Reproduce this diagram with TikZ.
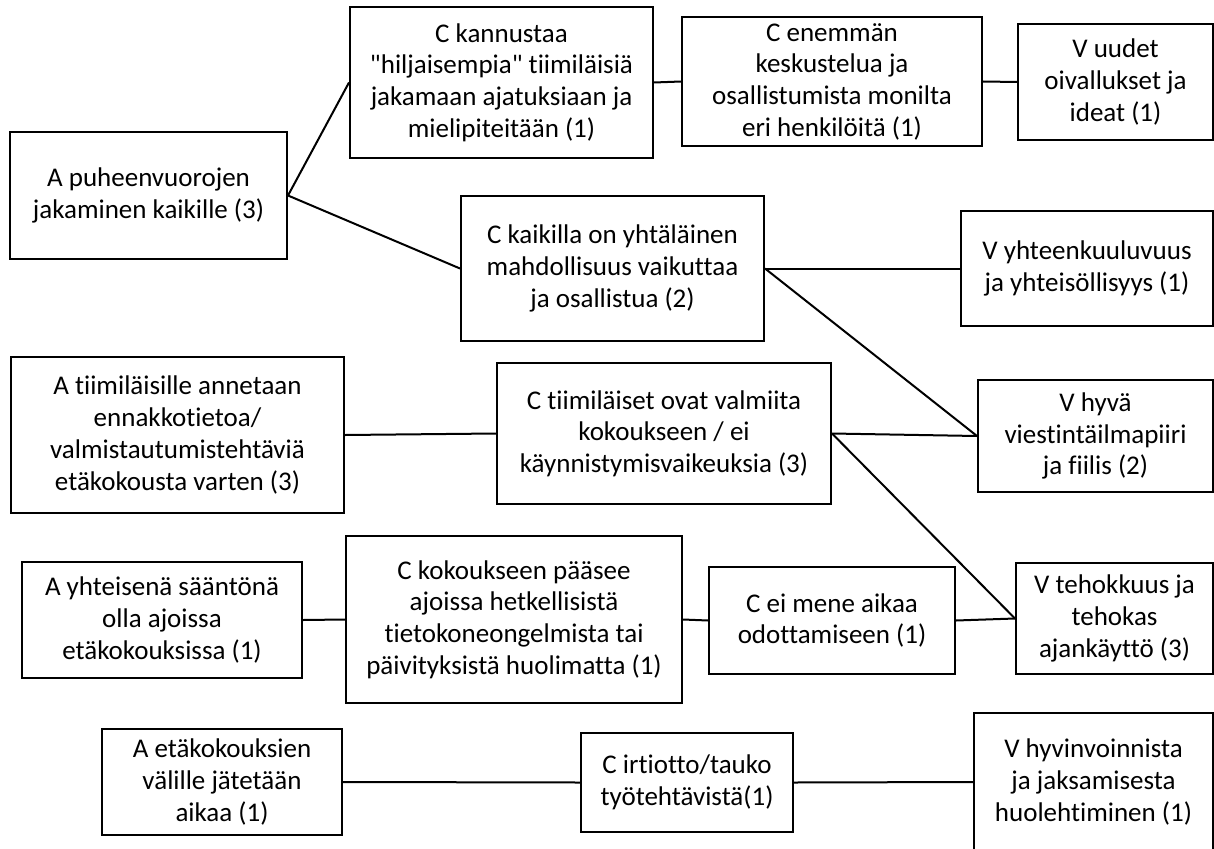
\documentclass[tikz,border=0pt]{standalone}
\usepackage{fontspec}
\setmainfont{Carlito}
% a family without TeX ligatures (straight quotes) and without fi/tt ligatures
\newfontfamily\boxfont{Carlito}[Ligatures=NoCommon]
\begin{document}
\begin{tikzpicture}[x=1pt,y=-1pt,
  box/.style={draw, line width=2pt, inner sep=0pt, align=center,
    font=\boxfont\fontsize{27}{31.7}\selectfont},
  link/.style={line width=2pt}]
\useasboundingbox (0,0) rectangle (1214,848);
% antecedents (A)
\node[box, minimum width=277, minimum height=127] (a1) at (148.5,195.5) {A puheenvuorojen\\jakaminen kaikille (3)};
\node[box, minimum width=333, minimum height=156] (a2) at (177.5,435) {A tiimiläisille annetaan\\ennakkotietoa/\\valmistautumistehtäviä\\etäkokousta varten (3)};
\node[box, minimum width=280, minimum height=116] (a3) at (162,620) {A yhteisenä sääntönä\\olla ajoissa\\etäkokouksissa (1)};
\node[box, minimum width=240, minimum height=106] (a4) at (222,782) {A etäkokouksien\\välille jätetään\\aikaa (1)};
% consequences (C)
\node[box, minimum width=303, minimum height=151] (c1) at (501.5,82.5) {C kannustaa\\"hiljaisempia" tiimiläisiä\\jakamaan ajatuksiaan ja\\mielipiteitään (1)};
\node[box, minimum width=300, minimum height=129] (c3) at (832,81.5) {C enemmän\\keskustelua ja\\osallistumista monilta\\eri henkilöitä (1)};
\node[box, minimum width=303, minimum height=145] (c2) at (612.5,268.5) {C kaikilla on yhtäläinen\\mahdollisuus vaikuttaa\\ja osallistua (2)};
\node[box, minimum width=334, minimum height=141] (c4) at (664,433.5) {C tiimiläiset ovat valmiita\\kokoukseen / ei\\käynnistymisvaikeuksia (3)};
\node[box, minimum width=336, minimum height=167] (c5) at (514,619.5) {C kokoukseen pääsee\\ajoissa hetkellisistä\\tietokoneongelmista tai\\päivityksistä huolimatta (1)};
\node[box, minimum width=246, minimum height=107] (c6) at (832,620.5) {C ei mene aikaa\\odottamiseen (1)};
\node[box, minimum width=212, minimum height=99] (c7) at (687,782.5) {C irtiotto/tauko\\työtehtävistä(1)};
% values (V)
\node[box, minimum width=195, minimum height=116] (v1) at (1115.5,82) {V uudet\\oivallukset ja\\ideat (1)};
\node[box, minimum width=252, minimum height=115] (v2) at (1087,268.5) {V yhteenkuuluvuus\\ja yhteisöllisyys (1)};
\node[box, minimum width=235, minimum height=112] (v3) at (1095.5,436) {V hyvä\\viestintäilmapiiri\\ja fiilis (2)};
\node[box, minimum width=197, minimum height=111] (v4) at (1114.5,618.5) {V tehokkuus ja\\tehokas\\ajankäyttö (3)};
\node[box, minimum width=239, minimum height=138] (v5) at (1093.5,782) {V hyvinvoinnista\\ja jaksamisesta\\huolehtiminen (1)};
% connectors
\draw[link] (a1.east) -- (c1.west);
\draw[link] (a1.east) -- (c2.west);
\draw[link] (c1.east) -- (c3.west);
\draw[link] (c3.east) -- (v1.west);
\draw[link] (c2.east) -- (v2.west);
\draw[link] (c2.east) -- (v3.west);
\draw[link] (a2.east) -- (c4.west);
\draw[link] (c4.east) -- (v3.west);
\draw[link] (c4.east) -- (v4.west);
\draw[link] (a3.east) -- (c5.west);
\draw[link] (c5.east) -- (c6.west);
\draw[link] (c6.east) -- (v4.west);
\draw[link] (a4.east) -- (c7.west);
\draw[link] (c7.east) -- (v5.west);
\end{tikzpicture}
\end{document}
